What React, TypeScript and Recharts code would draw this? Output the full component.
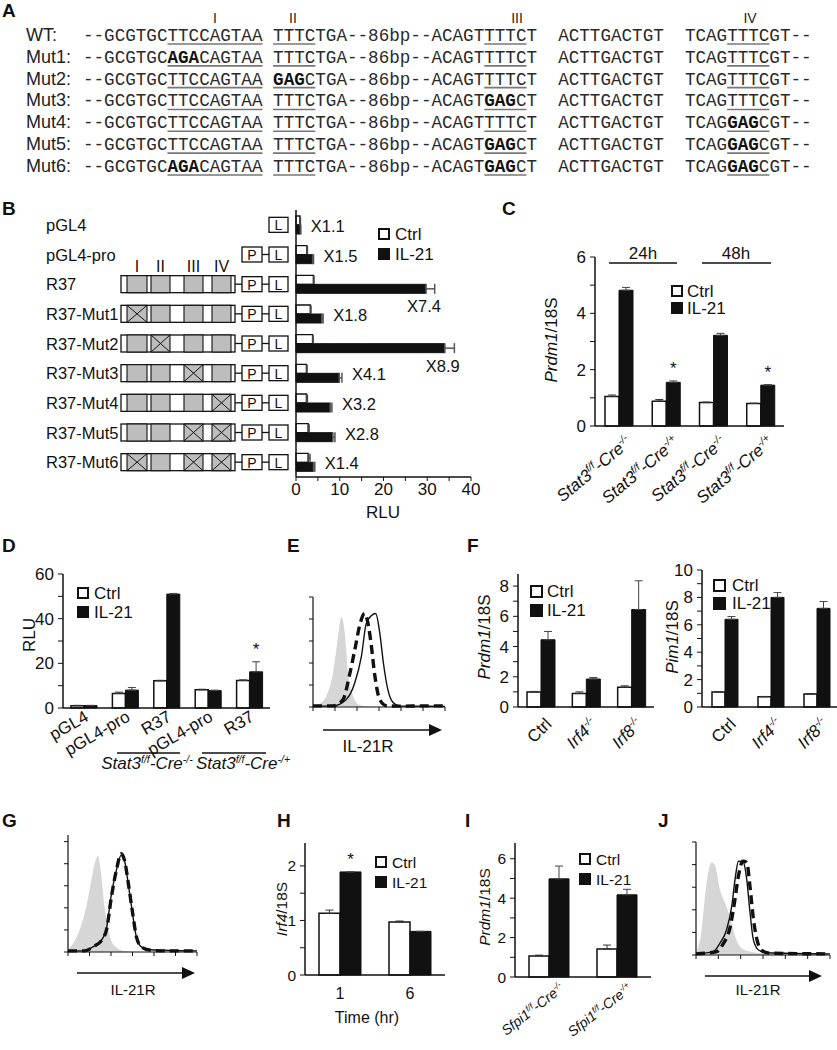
import React from 'react'
import { BarChart, Bar, XAxis, YAxis, ErrorBar, LabelList, ComposedChart, Area, Line } from 'recharts'

const FONT = '"Liberation Sans", Arial, Helvetica, sans-serif'
const MONO = '"Liberation Mono", "Courier New", monospace'
const INK = '#111'
const GREY = '#bdbdbd'
const HISTO_GREY = '#d6d6d6'

// ---- A: promoter sequences ----
const seqNames = ['WT:', 'Mut1:', 'Mut2:', 'Mut3:', 'Mut4:', 'Mut5:', 'Mut6:']
const seqRows = [
  '--GCGTGCTTCCAGTAA TTTCTGA--86bp--ACAGTTTTCT  ACTTGACTGT  TCAGTTTCGT--',
  '--GCGTGCAGACAGTAA TTTCTGA--86bp--ACAGTTTTCT  ACTTGACTGT  TCAGTTTCGT--',
  '--GCGTGCTTCCAGTAA GAGCTGA--86bp--ACAGTTTTCT  ACTTGACTGT  TCAGTTTCGT--',
  '--GCGTGCTTCCAGTAA TTTCTGA--86bp--ACAGTGAGCT  ACTTGACTGT  TCAGTTTCGT--',
  '--GCGTGCTTCCAGTAA TTTCTGA--86bp--ACAGTTTTCT  ACTTGACTGT  TCAGGAGCGT--',
  '--GCGTGCTTCCAGTAA TTTCTGA--86bp--ACAGTGAGCT  ACTTGACTGT  TCAGGAGCGT--',
  '--GCGTGCAGACAGTAA TTTCTGA--86bp--ACAGTGAGCT  ACTTGACTGT  TCAGGAGCGT--',
]
const siteNames = ['I', 'II', 'III', 'IV']
const siteSpan = [[8, 16], [18, 21], [38, 41], [61, 64]]
const siteMut = [[8, 10], [18, 20], [38, 40], [61, 63]]
const seqMutated = [[], [0], [1], [2], [3], [2, 3], [0, 2, 3]]

// ---- B: reporter constructs ----
const bNames = ['pGL4', 'pGL4-pro', 'R37', 'R37-Mut1', 'R37-Mut2', 'R37-Mut3', 'R37-Mut4', 'R37-Mut5', 'R37-Mut6']
const bKind = ['L', 'PL', 'E', 'E', 'E', 'E', 'E', 'E', 'E']
const bMut = [[], [], [], [0], [1], [2], [3], [2, 3], [0, 2, 3]]
const bCtrl = [0.9, 2.5, 4.0, 3.3, 3.8, 2.4, 2.4, 2.8, 2.8]
const bCtrlErr = [0.1, 0.1, 0.1, 0.1, 0.1, 0.1, 0.2, 0.2, 0.4]
const bIl = [1.0, 3.8, 29.7, 5.9, 34.0, 9.9, 7.8, 8.4, 4.0]
const bIlErr = [0.1, 0.2, 2.0, 0.3, 2.2, 0.6, 0.4, 0.5, 0.3]
const bFold = ['X1.1', 'X1.5', 'X7.4', 'X1.8', 'X8.9', 'X4.1', 'X3.2', 'X2.8', 'X1.4']

// ---- C ----
const cGroups = ['Stat3^{f/f}-Cre^{-/-}', 'Stat3^{f/f}-Cre^{-/+}', 'Stat3^{f/f}-Cre^{-/-} ', 'Stat3^{f/f}-Cre^{-/+} ']
const cCtrl = [1.05, 0.88, 0.83, 0.8]
const cCtrlErr = [0.05, 0.06, 0.02, 0.01]
const cIl = [4.82, 1.55, 3.22, 1.45]
const cIlErr = [0.1, 0.05, 0.07, 0.02]
const cSig = ['', '*', '', '*']

// ---- D ----
const dGroups = ['pGL4', 'pGL4-pro', 'R37', 'pGL4-pro ', 'R37 ']
const dCtrl = [1.0, 6.5, 12.2, 8.2, 12.3]
const dCtrlErr = [0.2, 0.6, 0.2, 0.2, 0.3]
const dIl = [1.1, 8.0, 51.0, 7.8, 16.2]
const dIlErr = [0.1, 1.2, 0.3, 0.2, 4.5]
const dSig = ['', '', '', '', '*']

// ---- F ----
const fGroups = ['Ctrl', 'Irf4^{-/-}', 'Irf8^{-/-}']
const fPrdmCtrl = [1.0, 0.9, 1.3]
const fPrdmCtrlErr = [0.03, 0.1, 0.1]
const fPrdmIl = [4.45, 1.85, 6.45]
const fPrdmIlErr = [0.55, 0.1, 1.9]
const fPimCtrl = [1.1, 0.75, 0.95]
const fPimCtrlErr = [0.03, 0.02, 0.03]
const fPimIl = [6.4, 8.0, 7.2]
const fPimIlErr = [0.2, 0.35, 0.5]

// ---- H ----
const hGroups = ['1', '6']
const hCtrl = [1.13, 0.97]
const hCtrlErr = [0.06, 0.02]
const hIl = [1.89, 0.8]
const hIlErr = [0, 0]
const hSig = ['*', '']

// ---- I ----
const iGroups = ['Sfpi1^{f/f}-Cre^{-/-}', 'Sfpi1^{f/f}-Cre^{-/+}']
const iCtrl = [1.07, 1.42]
const iCtrlErr = [0.04, 0.2]
const iIl = [4.98, 4.17]
const iIlErr = [0.65, 0.28]

// ---- flow histograms: [log decade, count] ----
const eIso = [[0, 0.05], [0.3, 0.15], [0.6, 0.5], [0.9, 1.5], [1.1, 2.9], [1.29, 4.1], [1.44, 3.4], [1.6, 1.5], [1.82, 0.5], [2.1, 0.1], [2.5, 0.02], [3.2, 0]]
const eDash = [[0, 0.05], [0.9, 0.05], [1.36, 0.33], [1.67, 1.5], [1.9, 2.6], [2.12, 3.7], [2.35, 4.25], [2.5, 3.8], [2.65, 2.8], [2.8, 1.5], [3.03, 0.35], [3.33, 0.06], [4, 0.04], [5, 0.05], [6, 0.05]]
const eSolid = [[0, 0.04], [0.9, 0.05], [1.5, 0.33], [1.9, 1.1], [2.2, 2.3], [2.42, 3.8], [2.65, 4.15], [2.85, 4.25], [3.03, 3.4], [3.2, 2.0], [3.4, 0.8], [3.64, 0.2], [3.94, 0.04], [6, 0.03]]

const gIso = [[0, 0.1], [0.23, 0.38], [0.54, 1.0], [0.85, 2.05], [1.09, 3.26], [1.24, 4.0], [1.4, 4.35], [1.52, 3.7], [1.7, 2.05], [1.86, 1.14], [2.0, 0.53], [2.33, 0.15], [2.7, 0.03], [3.2, 0]]
const gSolid = [[0, 0.05], [0.7, 0.05], [1.16, 0.23], [1.55, 0.53], [1.78, 1.0], [2.0, 2.5], [2.25, 3.7], [2.48, 4.4], [2.64, 4.1], [2.8, 3.1], [3.0, 1.75], [3.18, 0.68], [3.41, 0.23], [3.8, 0.1], [6, 0.05]]
const gDash = [[0, 0.05], [0.75, 0.05], [1.2, 0.25], [1.58, 0.55], [1.8, 1.05], [2.02, 2.5], [2.26, 3.75], [2.47, 4.45], [2.63, 4.15], [2.8, 3.15], [3.0, 1.8], [3.18, 0.7], [3.42, 0.22], [3.85, 0.08], [4.5, 0.05], [5.2, 0.05], [6, 0.05]]

const jIso = [[0, 0.1], [0.25, 1.1], [0.4, 2.6], [0.55, 3.66], [0.7, 4.1], [0.85, 3.96], [1.07, 2.9], [1.3, 2.3], [1.52, 1.7], [1.75, 0.82], [2.04, 0.3], [2.42, 0.15], [3.0, 0.07], [4.0, 0.03], [5, 0]]
const jSolid = [[0, 0.05], [0.78, 0.15], [1.07, 0.52], [1.37, 1.12], [1.6, 2.16], [1.75, 3.36], [1.9, 4.15], [2.12, 4.1], [2.27, 3.36], [2.42, 1.87], [2.57, 0.67], [2.8, 0.22], [3.16, 0.1], [6, 0.05]]
const jDash = [[0, 0.05], [0.93, 0.15], [1.22, 0.5], [1.52, 1.2], [1.72, 2.3], [1.9, 3.5], [2.1, 4.15], [2.27, 4.1], [2.42, 3.0], [2.57, 1.6], [2.75, 0.6], [2.94, 0.2], [3.31, 0.08], [6, 0.05]]

const axisLine = { stroke: INK, strokeWidth: 1.5 }

/** "Stat3^{f/f}-Cre^{-/-}" -> tspans with superscripts */
function rich(s: string, fs: number) {
  const parts = s.trim().split(/\^\{([^}]*)\}/)
  const out: React.ReactElement[] = []
  let up = false
  parts.forEach((t, i) => {
    if (!t) return
    const sup = i % 2 === 1
    let dy = 0
    if (sup && !up) { dy = -fs * 0.38; up = true }
    else if (!sup && up) { dy = fs * 0.38; up = false }
    out.push(<tspan key={i} dy={dy || undefined} fontSize={sup ? fs * 0.62 : fs}>{t}</tspan>)
  })
  return out
}

function rotTick(angle: number, dx: number, dy: number, fs: number) {
  return (props: any) => {
    const { x, y, payload } = props
    const v = String(payload.value)
    return (
      <g transform={`translate(${x + dx},${y + dy})`}>
        <text transform={`rotate(${angle})`} textAnchor="end" fontFamily={FONT} fill={INK} fontSize={fs}
          fontStyle={v.includes('^') ? 'italic' : 'normal'}>
          {rich(v, fs)}
        </text>
      </g>
    )
  }
}

const plainTick = (props: any) => (
  <text x={props.x} y={props.y + 18} textAnchor="middle" dominantBaseline="central" fontFamily={FONT} fontSize={16} fill={INK}>
    {props.payload.value}
  </text>
)

const blankTick = () => <g />

function geom(p: any) {
  const vb = p.viewBox || {}
  return { x: p.x ?? vb.x, y: p.y ?? vb.y, width: p.width ?? vb.width, height: p.height ?? vb.height }
}

interface BarPanelProps {
  x0: number; x1: number; y0: number; y1: number
  names: string[]; ctrl: number[]; ctrlErr: number[]; il: number[]; ilErr: number[]; sig?: string[]
  domain: [number, number]; ticks: number[]; labelStep: number
  barSize: number; fs: number; xH: number; tick: any
}

function BarPanel(p: BarPanelProps) {
  const yW = 40, mt = 12, mr = 4
  const rows = p.names.map((name, i) => ({
    name, ctrl: p.ctrl[i], ctrlErr: [0, p.ctrlErr[i]], il: p.il[i], ilErr: [0, p.ilErr[i]], sig: p.sig ? p.sig[i] : '',
  }))
  const star = (lp: any) => {
    const { x, y, width, height } = geom(lp)
    const idx = lp.index
    if (!lp.value || idx == null) return null
    const per = p.il[idx] ? height / p.il[idx] : 0
    const top = y - p.ilErr[idx] * per
    return <text x={x + width / 2} y={top - 7} textAnchor="middle" fontFamily={FONT} fontSize={17} fill={INK}>{lp.value}</text>
  }
  return (
    <div style={{ position: 'absolute', left: p.x0 - yW, top: p.y0 - mt }}>
      <BarChart width={p.x1 - p.x0 + yW + mr} height={p.y1 - p.y0 + mt + p.xH} data={rows}
        margin={{ top: mt, right: mr, bottom: 0, left: 0 }} barGap={0} barSize={p.barSize}>
        <XAxis dataKey="name" height={p.xH} interval={0} tickLine={false} tickSize={0} tickMargin={0} axisLine={axisLine} tick={p.tick} />
        <YAxis width={yW} domain={p.domain} ticks={p.ticks} interval={0} axisLine={axisLine}
          tickLine={{ stroke: INK }} tickSize={5} tickMargin={4}
          tickFormatter={(v: number) => (Math.abs(v % p.labelStep) < 1e-9 ? String(v) : '')}
          tick={{ fontSize: p.fs, fill: INK, fontFamily: FONT }} />
        <Bar dataKey="ctrl" fill="#fff" stroke={INK} strokeWidth={1.5} isAnimationActive={false}>
          <ErrorBar dataKey="ctrlErr" width={4} stroke="#333" strokeWidth={1} direction="y" isAnimationActive={false} />
        </Bar>
        <Bar dataKey="il" fill={INK} stroke={INK} strokeWidth={1} isAnimationActive={false}>
          <ErrorBar dataKey="ilErr" width={4} stroke="#444" strokeWidth={1} direction="y" isAnimationActive={false} />
          <LabelList dataKey="sig" content={star} />
        </Bar>
      </BarChart>
    </div>
  )
}

const siteBox = [[127, 147], [151, 170], [184, 203], [212, 231]]

function ConstructTick(props: any) {
  const { y, payload } = props
  const i = bNames.indexOf(payload.value)
  const kind = bKind[i]
  const mut = bMut[i] || []
  const c = y
  const box = (x: number, w: number, letter: string) => (
    <g>
      <rect x={x} y={c - 7.5} width={w} height={15} fill="#fff" stroke={INK} strokeWidth={1.3} />
      <text x={x + w / 2} y={c + 0.5} textAnchor="middle" dominantBaseline="central" fontSize={14} fontFamily={FONT} fill={INK}>{letter}</text>
    </g>
  )
  return (
    <g>
      <text x={46} y={c} dominantBaseline="central" fontSize={16.5} fontFamily={FONT} fill={INK}>{payload.value}</text>
      {kind === 'E' && (
        <g>
          <rect x={121} y={c - 8.5} width={114} height={17} fill="#fff" stroke={INK} strokeWidth={1.3} />
          {siteBox.map(([a, b], k) => (
            <g key={k}>
              <rect x={a} y={c - 8.5} width={b - a} height={17} fill={GREY} stroke={INK} strokeWidth={1.1} />
              {mut.includes(k) && (
                <path d={`M${a},${c - 8.5}L${b},${c + 8.5}M${a},${c + 8.5}L${b},${c - 8.5}`} stroke={INK} strokeWidth={1} />
              )}
            </g>
          ))}
          <line x1={235} x2={242} y1={c} y2={c} stroke={INK} strokeWidth={1.3} />
        </g>
      )}
      {kind !== 'L' && (
        <g>
          {box(242, 20, 'P')}
          <line x1={262} x2={269} y1={c} y2={c} stroke={INK} strokeWidth={1.3} />
        </g>
      )}
      {box(269, 19, 'L')}
      {i === 2 && siteBox.map(([a, b], k) => (
        <text key={k} x={(a + b) / 2} y={c - 12.5} textAnchor="middle" fontSize={16} fontFamily={FONT} fill={INK}>{siteNames[k]}</text>
      ))}
    </g>
  )
}

function PanelB() {
  const rows = bNames.map((name, i) => ({
    name, ctrl: bCtrl[i], ctrlErr: [0, bCtrlErr[i]], il: bIl[i], ilErr: [0, bIlErr[i]], fold: bFold[i],
  }))
  const top = 210, bottom = 477, mt = 10
  const fold = (lp: any) => {
    const { x, y, width, height } = geom(lp)
    const idx = bFold.indexOf(lp.value)
    const per = bIl[idx] ? width / bIl[idx] : 0
    const end = x + width + bIlErr[idx] * per
    if (width > 100) {
      return <text x={x + width - 2} y={y + height + 13} textAnchor="middle" dominantBaseline="central" fontSize={16.5} fontFamily={FONT} fill={INK}>{lp.value}</text>
    }
    return <text x={end + 10} y={y + 1} dominantBaseline="central" fontSize={16.5} fontFamily={FONT} fill={INK}>{lp.value}</text>
  }
  return (
    <div style={{ position: 'absolute', left: 0, top: top - mt }}>
      <BarChart layout="vertical" width={486} height={bottom - top + mt + 22} data={rows}
        margin={{ top: mt, right: 15, bottom: 0, left: 0 }} barGap={0} barSize={9}>
        <XAxis type="number" domain={[0, 40]} ticks={[0, 5, 10, 15, 20, 25, 30, 35, 40]} interval={0} height={22}
          tickFormatter={(v: number) => (v % 10 === 0 ? String(v) : '')} axisLine={axisLine} tickLine={{ stroke: INK }} tickSize={4}
          tick={{ fontSize: 17, fill: INK, fontFamily: FONT }} />
        <YAxis type="category" dataKey="name" width={296} interval={0} axisLine={axisLine} tickLine={false} tick={ConstructTick} />
        <Bar dataKey="ctrl" fill="#fff" stroke={INK} strokeWidth={1.3} isAnimationActive={false}>
          <ErrorBar dataKey="ctrlErr" width={4} stroke="#444" direction="x" isAnimationActive={false} />
        </Bar>
        <Bar dataKey="il" fill={INK} stroke={INK} isAnimationActive={false}>
          <ErrorBar dataKey="ilErr" width={5} stroke="#555" direction="x" isAnimationActive={false} />
          <LabelList dataKey="fold" content={fold} />
        </Bar>
      </BarChart>
    </div>
  )
}

interface HistoProps { x0: number; x1: number; y0: number; y1: number; ymax: number; iso: number[][]; dash: number[][]; solid: number[][] }

function Histo(p: HistoProps) {
  const pick = (s: number[][], x: number) => { const hit = s.find(q => q[0] === x); return hit ? hit[1] : null }
  const xs = Array.from(new Set([...p.iso, ...p.dash, ...p.solid].map(q => q[0]))).sort((a, b) => a - b)
  const rows = xs.map(x => ({ x, iso: pick(p.iso, x), dash: pick(p.dash, x), solid: pick(p.solid, x) }))
  const yW = 5, mt = 4, xH = 5, mr = 4
  return (
    <div style={{ position: 'absolute', left: p.x0 - yW, top: p.y0 - mt }}>
      <ComposedChart width={p.x1 - p.x0 + yW + mr} height={p.y1 - p.y0 + mt + xH} data={rows}
        margin={{ top: mt, right: mr, bottom: 0, left: 0 }}>
        <XAxis type="number" dataKey="x" domain={[0, 6]} ticks={[0, 1, 2, 3, 4, 5, 6]} interval={0} height={xH}
          tickSize={4} tick={blankTick} axisLine={{ stroke: INK, strokeWidth: 1.2 }} tickLine={{ stroke: INK }} />
        <YAxis type="number" domain={[0, p.ymax]} ticks={[0, 1, 2, 3, 4, 5]} interval={0} width={yW}
          tickSize={4} tick={blankTick} axisLine={{ stroke: INK, strokeWidth: 1.2 }} tickLine={{ stroke: INK }} />
        <Area dataKey="iso" type="monotone" fill={HISTO_GREY} fillOpacity={1} stroke="none" connectNulls isAnimationActive={false} />
        <Line dataKey="dash" type="monotone" stroke={INK} strokeWidth={3.4} strokeDasharray="9 5" dot={false} connectNulls isAnimationActive={false} />
        <Line dataKey="solid" type="monotone" stroke={INK} strokeWidth={1.4} dot={false} connectNulls isAnimationActive={false} />
      </ComposedChart>
    </div>
  )
}

function Key({ x, t1, t2, s, tx, fs }: { x: number; t1: number; t2: number; s: number; tx: number; fs: number }) {
  return (
    <g fontFamily={FONT} fontSize={fs} fill={INK}>
      <rect x={x + 1} y={t1 + 1} width={s - 2} height={s - 2} fill="#fff" stroke={INK} strokeWidth={2} />
      <rect x={x} y={t2} width={s} height={s} fill={INK} />
      <text x={tx} y={t1 + s / 2} dominantBaseline="central">Ctrl</text>
      <text x={tx} y={t2 + s / 2} dominantBaseline="central">IL-21</text>
    </g>
  )
}

function VLabel({ x, y, gene, rest, fs }: { x: number; y: number; gene: string; rest: string; fs: number }) {
  return (
    <text transform={`translate(${x},${y}) rotate(-90)`} textAnchor="middle" dominantBaseline="central" fontFamily={FONT} fontSize={fs} fill={INK}>
      <tspan fontStyle="italic">{gene}</tspan>{rest}
    </text>
  )
}

function Arrow({ x1, x2, y }: { x1: number; x2: number; y: number }) {
  return (
    <g>
      <line x1={x1} x2={x2 - 10} y1={y} y2={y} stroke={INK} strokeWidth={1.5} />
      <path d={`M${x2 - 13},${y - 6}L${x2},${y}L${x2 - 13},${y + 6}Z`} fill={INK} />
    </g>
  )
}

// One <text> per space-separated chunk; mutated bases are bold tspans (monospace keeps the advance).
function SeqRow({ s, y, muts }: { s: string; y: number; muts: number[] }) {
  const cw = 10.56, sx = 83
  const isBold = (k: number) => muts.some(m => k >= siteMut[m][0] && k <= siteMut[m][1])
  const chunks: { start: number; runs: { text: string; b: boolean }[] }[] = []
  let k = 0
  while (k < s.length) {
    if (s[k] === ' ') { k++; continue }
    const start = k
    const runs: { text: string; b: boolean }[] = []
    while (k < s.length && s[k] !== ' ') {
      const b = isBold(k)
      let j = k
      while (j < s.length && s[j] !== ' ' && isBold(j) === b) j++
      runs.push({ text: s.slice(k, j), b })
      k = j
    }
    chunks.push({ start, runs })
  }
  return (
    <g>
      {chunks.map((c, n) => (
        <text key={n} x={sx + c.start * cw} y={y} fontFamily={MONO} fontSize={17.6} fill="#2a2a2a">
          {c.runs.map((r, m) => (
            <tspan key={m} fontWeight={r.b ? 'bold' : 'normal'} fill={r.b ? '#111' : undefined}>{r.text}</tspan>
          ))}
        </text>
      ))}
      {siteSpan.map(([a, b], n) => (
        <line key={n} x1={sx + a * cw} x2={sx + (b + 1) * cw} y1={y + 3} y2={y + 3} stroke="#777" strokeWidth={1.6} />
      ))}
    </g>
  )
}

function Overlay() {
  const letters: [string, number, number][] = [
    ['A', 2, 17], ['B', 2, 215], ['C', 502, 215], ['D', 2, 552], ['E', 287, 552], ['F', 467, 552],
    ['G', 2, 827], ['H', 277, 827], ['I', 465, 827], ['J', 658, 827],
  ]
  const numeralX = [215, 293, 517, 750]
  return (
    <svg width={837} height={1050} style={{ position: 'absolute', left: 0, top: 0, pointerEvents: 'none' }} fontFamily={FONT}>
      {letters.map(([t, x, y]) => (
        <text key={t} x={x} y={y} fontWeight="bold" fontSize={19} fill={INK}>{t}</text>
      ))}
      {/* A */}
      {siteNames.map((t, n) => (
        <text key={t} x={numeralX[n]} y={23} textAnchor="middle" fontSize={14} fill="#222">{t}</text>
      ))}
      {seqRows.map((s, n) => {
        const y = 41 + n * 21.83
        return (
          <g key={n}>
            <text x={26} y={y} fontSize={18} fill="#222">{seqNames[n]}</text>
            <SeqRow s={s} y={y} muts={seqMutated[n]} />
          </g>
        )
      })}
      {/* B */}
      <Key x={378} t1={228} t2={248} s={12} tx={395} fs={17} />
      <text x={383} y={512} textAnchor="middle" dominantBaseline="central" fontSize={17} fill={INK}>RLU</text>
      {/* C */}
      <Key x={671} t1={285} t2={302} s={12} tx={687} fs={17} />
      <VLabel x={551} y={340} gene="Prdm1" rest="/18S" fs={17} />
      <line x1={609} x2={677} y1={263} y2={263} stroke={INK} strokeWidth={1.3} />
      <line x1={702} x2={771} y1={263} y2={263} stroke={INK} strokeWidth={1.3} />
      <text x={643} y={253} textAnchor="middle" dominantBaseline="central" fontSize={17} fill={INK}>24h</text>
      <text x={736} y={253} textAnchor="middle" dominantBaseline="central" fontSize={17} fill={INK}>48h</text>
      {/* D */}
      <Key x={77} t1={587} t2={606} s={12} tx={94} fs={17} />
      <VLabel x={29} y={635} gene="" rest="RLU" fs={17} />
      <line x1={117} x2={180} y1={753} y2={753} stroke={INK} strokeWidth={1.3} />
      <line x1={202} x2={266} y1={753} y2={753} stroke={INK} strokeWidth={1.3} />
      <text x={147} y={769} textAnchor="middle" fontSize={17} fontStyle="italic" fill={INK}>{rich('Stat3^{f/f}-Cre^{-/-}', 17)}</text>
      <text x={243} y={769} textAnchor="middle" fontSize={17} fontStyle="italic" fill={INK}>{rich('Stat3^{f/f}-Cre^{-/+}', 17)}</text>
      {/* E */}
      <Arrow x1={323} x2={442} y={730} />
      <text x={368} y={746} textAnchor="middle" dominantBaseline="central" fontSize={17} fill={INK}>IL-21R</text>
      {/* F */}
      <Key x={530} t1={585} t2={604} s={13} tx={547} fs={17} />
      <VLabel x={484} y={637} gene="Prdm1" rest="/18S" fs={17} />
      <Key x={713} t1={579} t2={597} s={13} tx={732} fs={17} />
      <VLabel x={672} y={637} gene="Pim1" rest="/18S" fs={17} />
      {/* G */}
      <Arrow x1={77} x2={195} y={973} />
      <text x={133} y={989} textAnchor="middle" dominantBaseline="central" fontSize={15} fill={INK}>IL-21R</text>
      {/* H */}
      <Key x={375} t1={856} t2={876} s={12} tx={392} fs={15.5} />
      <VLabel x={281} y={909} gene="Irf4" rest="/18S" fs={15.5} />
      <text x={367} y={1017} textAnchor="middle" dominantBaseline="central" fontSize={16} fill={INK}>Time (hr)</text>
      {/* I */}
      <Key x={579} t1={853} t2={873} s={12} tx={596} fs={15.5} />
      <VLabel x={484} y={907} gene="Prdm1" rest="/18S" fs={15.5} />
      {/* J */}
      <Arrow x1={705} x2={822} y={976} />
      <text x={758} y={989} textAnchor="middle" dominantBaseline="central" fontSize={15} fill={INK}>IL-21R</text>
    </svg>
  )
}

export default function App() {
  return (
    <div style={{ position: 'relative', width: 837, height: 1050, overflow: 'hidden', background: '#fff', fontFamily: FONT }}>
      <style>{'body{margin:0} .recharts-surface{overflow:visible}'}</style>
      <PanelB />
      <BarPanel x0={595} x1={784} y0={257} y1={426} names={cGroups} ctrl={cCtrl} ctrlErr={cCtrlErr} il={cIl} ilErr={cIlErr} sig={cSig}
        domain={[0, 6]} ticks={[0, 1, 2, 3, 4, 5, 6]} labelStep={2} barSize={14} fs={17} xH={80} tick={rotTick(-40, 14, 18, 17)} />
      <BarPanel x0={63} x1={270} y0={574} y1={708} names={dGroups} ctrl={dCtrl} ctrlErr={dCtrlErr} il={dIl} ilErr={dIlErr} sig={dSig}
        domain={[0, 60]} ticks={[0, 10, 20, 30, 40, 50, 60]} labelStep={20} barSize={13} fs={17} xH={60} tick={rotTick(-30, 6, 12, 17)} />
      <BarPanel x0={518} x1={654} y0={574} y1={707} names={fGroups} ctrl={fPrdmCtrl} ctrlErr={fPrdmCtrlErr} il={fPrdmIl} ilErr={fPrdmIlErr}
        domain={[0, 8.8]} ticks={[0, 1, 2, 3, 4, 5, 6, 7, 8]} labelStep={2} barSize={14} fs={17} xH={60} tick={rotTick(-45, 12, 18, 17)} />
      <BarPanel x0={702} x1={840} y0={570} y1={707} names={fGroups} ctrl={fPimCtrl} ctrlErr={fPimCtrlErr} il={fPimIl} ilErr={fPimIlErr}
        domain={[0, 10]} ticks={[0, 1, 2, 3, 4, 5, 6, 7, 8, 9, 10]} labelStep={2} barSize={13} fs={17} xH={60} tick={rotTick(-45, 12, 18, 17)} />
      <BarPanel x0={305} x1={445} y0={843} y1={975} names={hGroups} ctrl={hCtrl} ctrlErr={hCtrlErr} il={hIl} ilErr={hIlErr} sig={hSig}
        domain={[0, 2.42]} ticks={[0, 0.5, 1, 1.5, 2]} labelStep={1} barSize={21} fs={15.5} xH={35} tick={plainTick} />
      <BarPanel x0={515} x1={651} y0={843} y1={977} names={iGroups} ctrl={iCtrl} ctrlErr={iCtrlErr} il={iIl} ilErr={iIlErr}
        domain={[0, 6.8]} ticks={[0, 1, 2, 3, 4, 5, 6]} labelStep={2} barSize={20} fs={15.5} xH={73} tick={rotTick(-38, 16, 13, 14)} />
      <Histo x0={313} x1={445} y0={597} y1={707} ymax={5} iso={eIso} dash={eDash} solid={eSolid} />
      <Histo x0={68} x1={197} y0={835} y1={952} ymax={5.3} iso={gIso} dash={gDash} solid={gSolid} />
      <Histo x0={696} x1={830} y0={842} y1={955} ymax={5} iso={jIso} dash={jDash} solid={jSolid} />
      <Overlay />
    </div>
  )
}
